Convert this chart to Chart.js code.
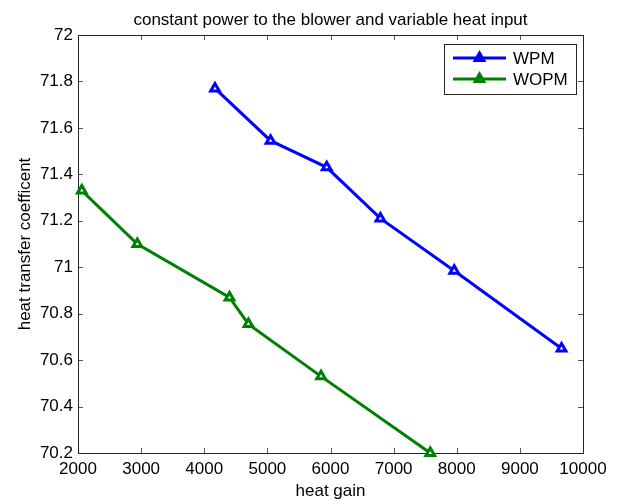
<!DOCTYPE html>
<html>
<head>
<meta charset="utf-8">
<script src="https://cdn.jsdelivr.net/npm/chart.js@4"></script>
<style>
  body { margin: 0; background: #fff; }
  #wrap { width: 620px; height: 501px; }
</style>
</head>
<body>
<div id="wrap"><canvas id="heatChart"></canvas></div>
<script>
// data
const wpmGain = [4170, 5050, 5940, 6790, 7960, 9660];
const wpmCoef = [71.77, 71.545, 71.43, 71.21, 70.985, 70.65];
const wopmGain = [2060, 2940, 4400, 4700, 5850, 7580];
const wopmCoef = [71.33, 71.10, 70.87, 70.755, 70.53, 70.20];
const xTicks = [2000, 3000, 4000, 5000, 6000, 7000, 8000, 9000, 10000];
const yTicks = [70.2, 70.4, 70.6, 70.8, 71, 71.2, 71.4, 71.6, 71.8, 72];
const seriesNames = ["WPM", "WOPM"];
const seriesColors = ["#0000ff", "#008000"];
const titleText = "constant power to the blower and variable heat input";
const xTitle = "heat gain";
const yTitle = "heat transfer coefficent";

const FONT = '17px "Liberation Sans", Arial, sans-serif';
Chart.defaults.font.family = '"Liberation Sans", Arial, sans-serif';
Chart.defaults.font.size = 17;
Chart.defaults.color = "#000";

function toPoints(xs, ys) {
    return xs.map((x, i) => ({ x: x, y: ys[i] }));
}

function triangle(ctx, x, y, r) {
    ctx.beginPath();
    ctx.moveTo(x, y - r);
    ctx.lineTo(x + r * Math.cos(Math.PI / 6), y + r / 2);
    ctx.lineTo(x - r * Math.cos(Math.PI / 6), y + r / 2);
    ctx.closePath();
}

// matlab style box, inward ticks, titles and legend
const matlabFrame = {
    id: "matlabFrame",
    beforeDatasetsDraw(chart) {
        const { ctx, chartArea: a, scales } = chart;
        ctx.save();
        ctx.strokeStyle = "#555";
        ctx.lineWidth = 1;
        ctx.beginPath();
        xTicks.forEach(v => {
            const px = Math.round(scales.x.getPixelForValue(v)) + 0.5;
            ctx.moveTo(px, a.bottom); ctx.lineTo(px, a.bottom - 5);
            ctx.moveTo(px, a.top); ctx.lineTo(px, a.top + 5);
        });
        yTicks.forEach(v => {
            const py = Math.round(scales.y.getPixelForValue(v)) + 0.5;
            ctx.moveTo(a.left, py); ctx.lineTo(a.left + 5, py);
            ctx.moveTo(a.right, py); ctx.lineTo(a.right - 5, py);
        });
        ctx.stroke();
        ctx.strokeStyle = "#262626";
        ctx.strokeRect(Math.round(a.left) + 0.5, Math.round(a.top) + 0.5,
            Math.round(a.right - a.left), Math.round(a.bottom - a.top));

        ctx.fillStyle = "#000";
        ctx.font = FONT;
        ctx.textAlign = "center";
        ctx.textBaseline = "alphabetic";
        const cx = (a.left + a.right) / 2;
        ctx.fillText(titleText, cx, 25);
        ctx.fillText(xTitle, cx, 496);
        ctx.save();
        ctx.translate(29.5, (a.top + a.bottom) / 2);
        ctx.rotate(-Math.PI / 2);
        ctx.fillText(yTitle, 0, 0);
        ctx.restore();
        ctx.restore();
    },
    afterDraw(chart) {
        const { ctx, chartArea: a } = chart;
        const bx = a.right - 139, by = a.top + 9;
        ctx.save();
        ctx.fillStyle = "#fff";
        ctx.fillRect(bx, by, 132, 50);
        ctx.strokeStyle = "#262626";
        ctx.lineWidth = 1;
        ctx.strokeRect(bx + 0.5, by + 0.5, 132, 50);
        ctx.font = FONT;
        ctx.textAlign = "left";
        ctx.textBaseline = "alphabetic";
        seriesNames.forEach((name, i) => {
            const ly = by + 14 + i * 21;
            ctx.strokeStyle = seriesColors[i];
            ctx.lineWidth = 3;
            ctx.beginPath();
            ctx.moveTo(bx + 9, ly);
            ctx.lineTo(bx + 62, ly);
            ctx.stroke();
            triangle(ctx, bx + 35.5, ly, 5);
            ctx.fillStyle = seriesColors[i];
            ctx.fill();
            ctx.stroke();
            ctx.fillStyle = "#000";
            ctx.fillText(name, bx + 69, ly + 6);
        });
        ctx.restore();
    }
};

const datasets = [
    { label: seriesNames[0], data: toPoints(wpmGain, wpmCoef) },
    { label: seriesNames[1], data: toPoints(wopmGain, wopmCoef) }
].map((d, i) => Object.assign(d, {
    borderColor: seriesColors[i],
    backgroundColor: "#fff",
    pointBorderColor: seriesColors[i],
    pointBackgroundColor: "#fff",
    borderWidth: 3,
    pointStyle: "triangle",
    pointRadius: 5,
    pointBorderWidth: 3,
    tension: 0,
    clip: false
}));

new Chart(document.getElementById("heatChart"), {
    type: "line",
    data: { datasets: datasets },
    options: {
        responsive: true,
        maintainAspectRatio: false,
        animation: false,
        layout: { padding: { top: 35, right: 37, left: 0, bottom: 0 } },
        plugins: {
            legend: { display: false },
            tooltip: { enabled: false },
            title: { display: false }
        },
        scales: {
            x: {
                type: "linear",
                min: 2000,
                max: 10000,
                afterBuildTicks: s => { s.ticks = xTicks.map(v => ({ value: v })); },
                afterFit: s => { s.height = 48; },
                grid: { display: false, drawTicks: false },
                border: { display: false },
                ticks: { padding: 6, maxRotation: 0, autoSkip: false, callback: v => String(v) }
            },
            y: {
                type: "linear",
                min: 70.2,
                max: 72,
                afterBuildTicks: s => { s.ticks = yTicks.map(v => ({ value: v })); },
                afterFit: s => { s.width = 78; },
                grid: { display: false, drawTicks: false },
                border: { display: false },
                ticks: { padding: 5, autoSkip: false, callback: v => String(Number(v.toFixed(1))) }
            }
        }
    },
    plugins: [matlabFrame]
});
</script>
</body>
</html>
